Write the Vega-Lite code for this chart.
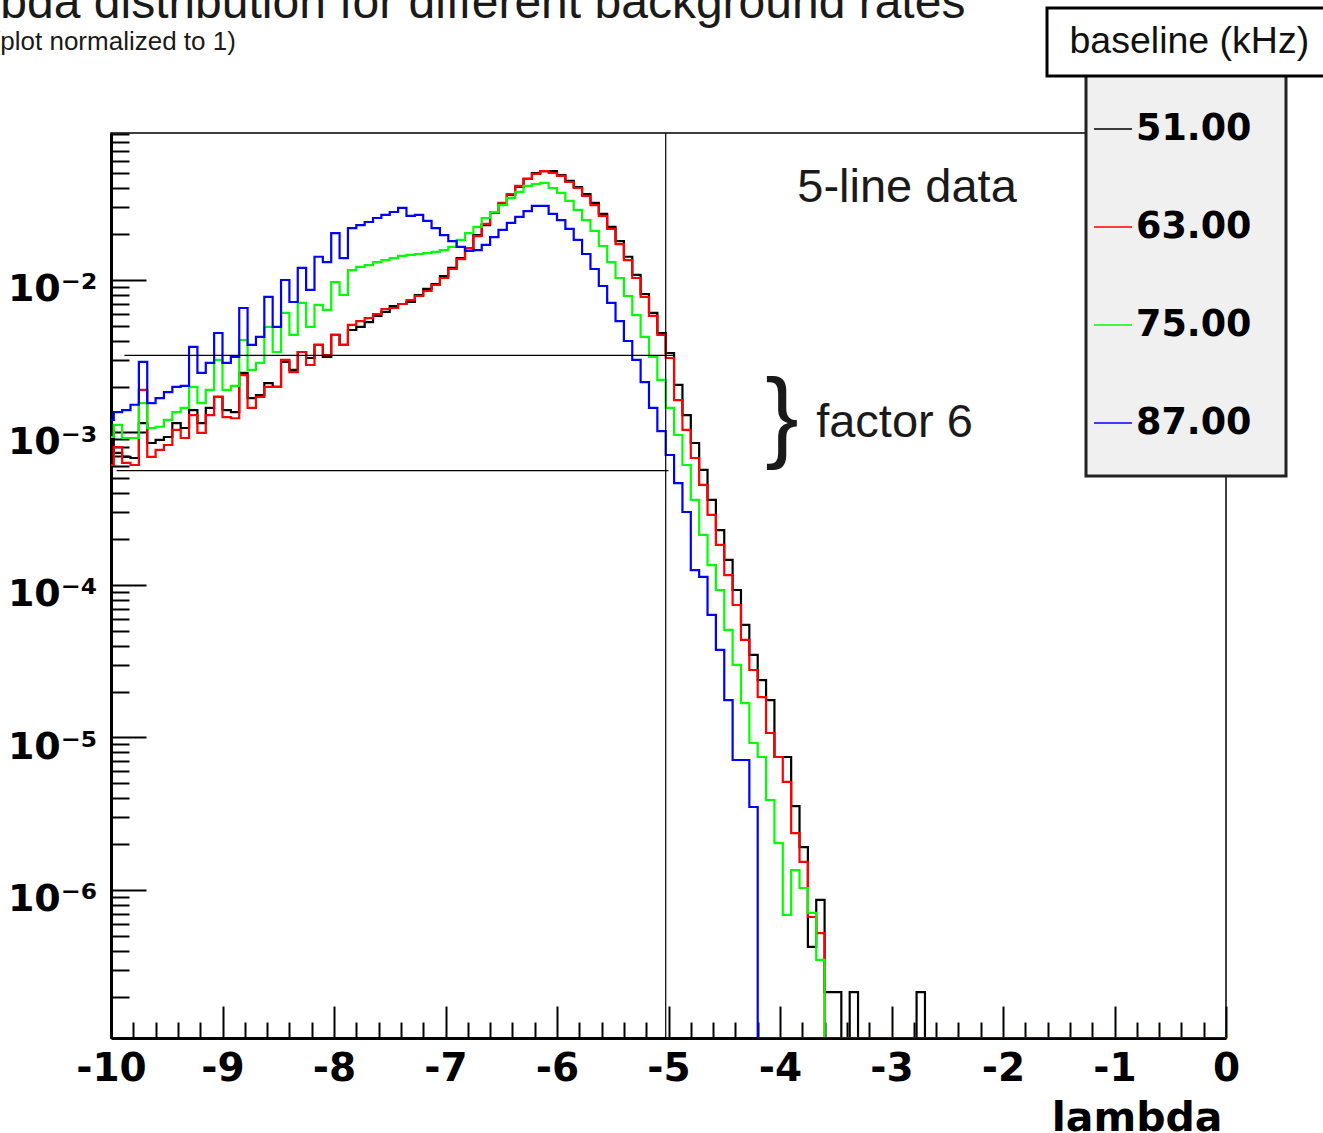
{
  "$schema": "https://vega.github.io/schema/vega-lite/v6.json",
  "width": 1115,
  "height": 905,
  "autosize": {"type": "none"},
  "padding": {"left": 111, "top": 133, "right": 97, "bottom": 95},
  "background": "white",
  "title": {
    "text": "lambda distribution for different background rates",
    "anchor": "start",
    "frame": "group",
    "font": "Liberation Sans",
    "fontSize": 48,
    "fontWeight": "normal",
    "color": "#1a1a1a",
    "baseline": "top",
    "offset": 0,
    "dx": -188,
    "dy": 21
  },
  "config": {
    "view": {"stroke": "black", "strokeWidth": 1.5},
    "font": "Liberation Sans",
    "legend": {"strokeWidth": 3}
  },
  "data": {
    "values": [
      {"lambda": -10.05, "51": 0.00102, "63": 0.000612, "75": 0.000934, "87": 0.00121},
      {"lambda": -9.975, "51": 0.000734, "63": 0.000803, "75": 0.00112, "87": 0.00136},
      {"lambda": -9.9, "51": 0.000691, "63": 0.000631, "75": 0.00092, "87": 0.0014},
      {"lambda": -9.825, "51": 0.00068, "63": 0.000612, "75": 0.00092, "87": 0.00152},
      {"lambda": -9.75, "51": 0.00115, "63": 0.0019, "75": 0.00156, "87": 0.0029},
      {"lambda": -9.675, "51": 0.000853, "63": 0.000691, "75": 0.00107, "87": 0.00156},
      {"lambda": -9.6, "51": 0.000893, "63": 0.000768, "75": 0.00109, "87": 0.00168},
      {"lambda": -9.525, "51": 0.000934, "63": 0.000828, "75": 0.00121, "87": 0.00184},
      {"lambda": -9.45, "51": 0.00115, "63": 0.00104, "75": 0.00136, "87": 0.00199},
      {"lambda": -9.375, "51": 0.00107, "63": 0.00092, "75": 0.00145, "87": 0.00202},
      {"lambda": -9.3, "51": 0.0014, "63": 0.0013, "75": 0.00199, "87": 0.00364},
      {"lambda": -9.225, "51": 0.00115, "63": 0.000993, "75": 0.00156, "87": 0.00246},
      {"lambda": -9.15, "51": 0.00145, "63": 0.0013, "75": 0.0019, "87": 0.00286},
      {"lambda": -9.075, "51": 0.00171, "63": 0.00171, "75": 0.00299, "87": 0.00449},
      {"lambda": -9.0, "51": 0.0014, "63": 0.00126, "75": 0.0019, "87": 0.00286},
      {"lambda": -8.925, "51": 0.00136, "63": 0.00124, "75": 0.00202, "87": 0.00313},
      {"lambda": -8.85, "51": 0.00246, "63": 0.00238, "75": 0.00404, "87": 0.00655},
      {"lambda": -8.775, "51": 0.00168, "63": 0.00145, "75": 0.00257, "87": 0.00375},
      {"lambda": -8.7, "51": 0.00176, "63": 0.00171, "75": 0.00286, "87": 0.00423},
      {"lambda": -8.625, "51": 0.00211, "63": 0.00199, "75": 0.00492, "87": 0.00774},
      {"lambda": -8.55, "51": 0.00199, "63": 0.00199, "75": 0.00337, "87": 0.00492},
      {"lambda": -8.475, "51": 0.0029, "63": 0.00299, "75": 0.00608, "87": 0.01},
      {"lambda": -8.4, "51": 0.00257, "63": 0.00249, "75": 0.00436, "87": 0.00717},
      {"lambda": -8.325, "51": 0.00337, "63": 0.00337, "75": 0.00707, "87": 0.012},
      {"lambda": -8.25, "51": 0.00308, "63": 0.00277, "75": 0.00492, "87": 0.0086},
      {"lambda": -8.175, "51": 0.00375, "63": 0.00375, "75": 0.00686, "87": 0.0142},
      {"lambda": -8.1, "51": 0.00313, "63": 0.00322, "75": 0.00636, "87": 0.0131},
      {"lambda": -8.025, "51": 0.00436, "63": 0.00436, "75": 0.0097, "87": 0.0203},
      {"lambda": -7.95, "51": 0.00375, "63": 0.00375, "75": 0.00797, "87": 0.0139},
      {"lambda": -7.875, "51": 0.0047, "63": 0.00507, "75": 0.0116, "87": 0.0219},
      {"lambda": -7.8, "51": 0.00492, "63": 0.00538, "75": 0.0122, "87": 0.0229},
      {"lambda": -7.725, "51": 0.0053, "63": 0.00563, "75": 0.0125, "87": 0.024},
      {"lambda": -7.65, "51": 0.00581, "63": 0.00598, "75": 0.0131, "87": 0.0255},
      {"lambda": -7.575, "51": 0.00617, "63": 0.00645, "75": 0.0135, "87": 0.0267},
      {"lambda": -7.5, "51": 0.00675, "63": 0.00655, "75": 0.0139, "87": 0.0279},
      {"lambda": -7.425, "51": 0.00696, "63": 0.00696, "75": 0.0144, "87": 0.0297},
      {"lambda": -7.35, "51": 0.00717, "63": 0.00739, "75": 0.0146, "87": 0.0263},
      {"lambda": -7.275, "51": 0.00797, "63": 0.00785, "75": 0.0148, "87": 0.0267},
      {"lambda": -7.2, "51": 0.00873, "63": 0.00847, "75": 0.015, "87": 0.0244},
      {"lambda": -7.125, "51": 0.00941, "63": 0.00927, "75": 0.0153, "87": 0.0219},
      {"lambda": -7.05, "51": 0.0106, "63": 0.0103, "75": 0.0157, "87": 0.0197},
      {"lambda": -6.975, "51": 0.012, "63": 0.0118, "75": 0.0165, "87": 0.018},
      {"lambda": -6.9, "51": 0.0139, "63": 0.0137, "75": 0.0183, "87": 0.0165},
      {"lambda": -6.825, "51": 0.0162, "63": 0.0162, "75": 0.0203, "87": 0.0155},
      {"lambda": -6.75, "51": 0.0197, "63": 0.0194, "75": 0.0223, "87": 0.0157},
      {"lambda": -6.675, "51": 0.0229, "63": 0.0233, "75": 0.0255, "87": 0.017},
      {"lambda": -6.6, "51": 0.0275, "63": 0.0275, "75": 0.0279, "87": 0.0191},
      {"lambda": -6.525, "51": 0.0315, "63": 0.032, "75": 0.031, "87": 0.0213},
      {"lambda": -6.45, "51": 0.0361, "63": 0.0366, "75": 0.0345, "87": 0.0237},
      {"lambda": -6.375, "51": 0.0407, "63": 0.0414, "75": 0.0378, "87": 0.0259},
      {"lambda": -6.3, "51": 0.046, "63": 0.046, "75": 0.0414, "87": 0.0283},
      {"lambda": -6.225, "51": 0.0503, "63": 0.0496, "75": 0.0426, "87": 0.0306},
      {"lambda": -6.15, "51": 0.0518, "63": 0.0518, "75": 0.0433, "87": 0.0306},
      {"lambda": -6.075, "51": 0.0518, "63": 0.0503, "75": 0.0401, "87": 0.0271},
      {"lambda": -6.0, "51": 0.0488, "63": 0.0481, "75": 0.0372, "87": 0.0247},
      {"lambda": -5.925, "51": 0.0446, "63": 0.0439, "75": 0.033, "87": 0.0216},
      {"lambda": -5.85, "51": 0.0407, "63": 0.0401, "75": 0.0288, "87": 0.0183},
      {"lambda": -5.775, "51": 0.0366, "63": 0.0356, "75": 0.0247, "87": 0.0148},
      {"lambda": -5.7, "51": 0.032, "63": 0.031, "75": 0.021, "87": 0.0118},
      {"lambda": -5.625, "51": 0.0271, "63": 0.0263, "75": 0.0167, "87": 0.00913},
      {"lambda": -5.55, "51": 0.0223, "63": 0.0216, "75": 0.0131, "87": 0.00707},
      {"lambda": -5.475, "51": 0.018, "63": 0.0172, "75": 0.0103, "87": 0.00538},
      {"lambda": -5.4, "51": 0.0142, "63": 0.0135, "75": 0.00785, "87": 0.00398},
      {"lambda": -5.325, "51": 0.0108, "63": 0.0103, "75": 0.00589, "87": 0.00299},
      {"lambda": -5.25, "51": 0.00809, "63": 0.00774, "75": 0.00423, "87": 0.00214},
      {"lambda": -5.175, "51": 0.00608, "63": 0.00581, "75": 0.00313, "87": 0.00145},
      {"lambda": -5.1, "51": 0.00449, "63": 0.00436, "75": 0.00221, "87": 0.00102},
      {"lambda": -5.025, "51": 0.00332, "63": 0.00308, "75": 0.00145, "87": 0.000712},
      {"lambda": -4.95, "51": 0.00205, "63": 0.00163, "75": 0.000963, "87": 0.000466},
      {"lambda": -4.875, "51": 0.0013, "63": 0.00104, "75": 0.000612, "87": 0.000301},
      {"lambda": -4.8, "51": 0.000853, "63": 0.00068, "75": 0.000361, "87": 0.000125},
      {"lambda": -4.725, "51": 0.000568, "63": 0.000453, "75": 0.000213, "87": 0.000113},
      {"lambda": -4.65, "51": 0.000361, "63": 0.000288, "75": 0.000135, "87": 0.0000636},
      {"lambda": -4.575, "51": 0.000229, "63": 0.000183, "75": 0.0000927, "87": 0.0000375},
      {"lambda": -4.5, "51": 0.000146, "63": 0.000116, "75": 0.0000507, "87": 0.0000176},
      {"lambda": -4.425, "51": 0.0000927, "63": 0.0000739, "75": 0.0000299, "87": 0.00000712},
      {"lambda": -4.35, "51": 0.0000547, "63": 0.0000436, "75": 0.0000168, "87": 0.00000712},
      {"lambda": -4.275, "51": 0.0000348, "63": 0.0000277, "75": 0.0000092, "87": 0.0000035},
      {"lambda": -4.2, "51": 0.0000238, "63": 0.0000184, "75": 0.00000745, "87": 0},
      {"lambda": -4.125, "51": 0.0000176, "63": 0.0000107, "75": 0.00000389, "87": 0},
      {"lambda": -4.05, "51": 0.00000745, "63": 0.00000745, "75": 0.00000203, "87": 0},
      {"lambda": -3.975, "51": 0.00000745, "63": 0.00000511, "75": 0.000000686, "87": 0},
      {"lambda": -3.9, "51": 0.00000355, "63": 0.00000236, "75": 0.00000135, "87": 0},
      {"lambda": -3.825, "51": 0.00000191, "63": 0.00000153, "75": 0.00000103, "87": 0},
      {"lambda": -3.75, "51": 0.000000423, "63": 0.000000665, "75": 0.000000707, "87": 0},
      {"lambda": -3.675, "51": 0.00000086, "63": 0.000000522, "75": 0.000000348, "87": 0},
      {"lambda": -3.6, "51": 0.000000214, "63": 0, "75": 0, "87": 0},
      {"lambda": -3.525, "51": 0.000000214, "63": 0, "75": 0, "87": 0},
      {"lambda": -3.45, "51": 0, "63": 0, "75": 0, "87": 0},
      {"lambda": -3.375, "51": 0.000000214, "63": 0, "75": 0, "87": 0},
      {"lambda": -3.3, "51": 0, "63": 0, "75": 0, "87": 0},
      {"lambda": -3.225, "51": 0, "63": 0, "75": 0, "87": 0},
      {"lambda": -3.15, "51": 0, "63": 0, "75": 0, "87": 0},
      {"lambda": -3.075, "51": 0, "63": 0, "75": 0, "87": 0},
      {"lambda": -3.0, "51": 0, "63": 0, "75": 0, "87": 0},
      {"lambda": -2.925, "51": 0, "63": 0, "75": 0, "87": 0},
      {"lambda": -2.85, "51": 0, "63": 0, "75": 0, "87": 0},
      {"lambda": -2.775, "51": 0.000000214, "63": 0, "75": 0, "87": 0},
      {"lambda": -2.7, "51": 0, "63": 0, "75": 0, "87": 0},
      {"lambda": -2.625, "51": 0, "63": 0, "75": 0, "87": 0},
      {"lambda": -2.55, "51": 0, "63": 0, "75": 0, "87": 0},
      {"lambda": -2.475, "51": 0, "63": 0, "75": 0, "87": 0},
      {"lambda": -2.4, "51": 0, "63": 0, "75": 0, "87": 0},
      {"lambda": -2.325, "51": 0, "63": 0, "75": 0, "87": 0},
      {"lambda": -2.25, "51": 0, "63": 0, "75": 0, "87": 0},
      {"lambda": -2.175, "51": 0, "63": 0, "75": 0, "87": 0},
      {"lambda": -2.1, "51": 0, "63": 0, "75": 0, "87": 0},
      {"lambda": -2.025, "51": 0, "63": 0, "75": 0, "87": 0},
      {"lambda": -1.95, "51": 0, "63": 0, "75": 0, "87": 0},
      {"lambda": -1.875, "51": 0, "63": 0, "75": 0, "87": 0},
      {"lambda": -1.8, "51": 0, "63": 0, "75": 0, "87": 0},
      {"lambda": -1.725, "51": 0, "63": 0, "75": 0, "87": 0},
      {"lambda": -1.65, "51": 0, "63": 0, "75": 0, "87": 0},
      {"lambda": -1.575, "51": 0, "63": 0, "75": 0, "87": 0},
      {"lambda": -1.5, "51": 0, "63": 0, "75": 0, "87": 0},
      {"lambda": -1.425, "51": 0, "63": 0, "75": 0, "87": 0},
      {"lambda": -1.35, "51": 0, "63": 0, "75": 0, "87": 0},
      {"lambda": -1.275, "51": 0, "63": 0, "75": 0, "87": 0},
      {"lambda": -1.2, "51": 0, "63": 0, "75": 0, "87": 0},
      {"lambda": -1.125, "51": 0, "63": 0, "75": 0, "87": 0},
      {"lambda": -1.05, "51": 0, "63": 0, "75": 0, "87": 0},
      {"lambda": -0.975, "51": 0, "63": 0, "75": 0, "87": 0},
      {"lambda": -0.9, "51": 0, "63": 0, "75": 0, "87": 0},
      {"lambda": -0.825, "51": 0, "63": 0, "75": 0, "87": 0},
      {"lambda": -0.75, "51": 0, "63": 0, "75": 0, "87": 0},
      {"lambda": -0.675, "51": 0, "63": 0, "75": 0, "87": 0},
      {"lambda": -0.6, "51": 0, "63": 0, "75": 0, "87": 0},
      {"lambda": -0.525, "51": 0, "63": 0, "75": 0, "87": 0},
      {"lambda": -0.45, "51": 0, "63": 0, "75": 0, "87": 0},
      {"lambda": -0.375, "51": 0, "63": 0, "75": 0, "87": 0},
      {"lambda": -0.3, "51": 0, "63": 0, "75": 0, "87": 0},
      {"lambda": -0.225, "51": 0, "63": 0, "75": 0, "87": 0},
      {"lambda": -0.15, "51": 0, "63": 0, "75": 0, "87": 0},
      {"lambda": -0.075, "51": 0, "63": 0, "75": 0, "87": 0},
      {"lambda": 0.0, "51": 0, "63": 0, "75": 0, "87": 0}
    ]
  },
  "layer": [
    {
      "transform": [{"fold": ["51", "63", "75", "87"], "as": ["rate", "value"]}],
      "mark": {"type": "line", "interpolate": "step-after", "strokeWidth": 2.2, "clip": true},
      "encoding": {
        "x": {
          "field": "lambda",
          "type": "quantitative",
          "scale": {"domain": [-10, 0], "nice": false, "zero": false},
          "axis": {
            "values": [-10, -9.8, -9.6, -9.4, -9.2, -9, -8.8, -8.6, -8.4, -8.2, -8, -7.8, -7.6, -7.4, -7.2, -7, -6.8, -6.6, -6.4, -6.2, -6, -5.8, -5.6, -5.4, -5.2, -5, -4.8, -4.6, -4.4, -4.2, -4, -3.8, -3.6, -3.4, -3.2, -3, -2.8, -2.6, -2.4, -2.2, -2, -1.8, -1.6, -1.4, -1.2, -1, -0.8, -0.6, -0.4, -0.2, 0],
            "tickCount": 100,
            "labelExpr": "abs(datum.value - round(datum.value)) < 0.001 ? '' + round(datum.value) : ''",
            "tickSize": {"condition": {"test": "abs(datum.value - round(datum.value)) < 0.001", "value": -32}, "value": -16},
            "tickWidth": 2,
            "tickColor": "black",
            "domainWidth": 3,
            "domainColor": "black",
            "grid": false,
            "labelFont": "DejaVu Sans",
            "labelFontWeight": "bold",
            "labelFontSize": 39,
            "labelColor": "black",
            "labelBaseline": "top",
            "labelPadding": 43,
            "labelOverlap": false,
            "labelFlush": false,
            "labelBound": false,
            "title": "lambda",
            "titleFont": "DejaVu Sans",
            "titleFontWeight": "bold",
            "titleFontSize": 41,
            "titleColor": "black",
            "titleAnchor": "end",
            "titleAlign": "right",
            "titleBaseline": "alphabetic",
            "titleX": 1111,
            "titleY": 92
          }
        },
        "y": {
          "field": "value",
          "type": "quantitative",
          "scale": {"type": "log", "domain": [1.07e-7, 0.092], "nice": false, "clamp": true},
          "axis": {
            "values": [2e-7, 3e-7, 4e-7, 5e-7, 6e-7, 7e-7, 8e-7, 9e-7, 1e-6, 2e-6, 3e-6, 4e-6, 5e-6, 6e-6, 7e-6, 8e-6, 9e-6, 1e-5, 2e-5, 3e-5, 4e-5, 5e-5, 6e-5, 7e-5, 8e-5, 9e-5, 1e-4, 2e-4, 3e-4, 4e-4, 5e-4, 6e-4, 7e-4, 8e-4, 9e-4, 1e-3, 2e-3, 3e-3, 4e-3, 5e-3, 6e-3, 7e-3, 8e-3, 9e-3, 1e-2, 2e-2, 3e-2, 4e-2, 5e-2, 6e-2, 7e-2, 8e-2, 9e-2],
            "tickCount": 100,
            "labelExpr": "abs(log(datum.value)/LN10 - round(log(datum.value)/LN10)) < 0.01 ? (round(log(datum.value)/LN10) == -2 ? '10\u207b\u00b2' : round(log(datum.value)/LN10) == -3 ? '10\u207b\u00b3' : round(log(datum.value)/LN10) == -4 ? '10\u207b\u2074' : round(log(datum.value)/LN10) == -5 ? '10\u207b\u2075' : '10\u207b\u2076') : ''",
            "tickSize": {"condition": {"test": "abs(log(datum.value)/LN10 - round(log(datum.value)/LN10)) < 0.01", "value": -35}, "value": -18},
            "tickWidth": 2,
            "tickColor": "black",
            "domainWidth": 3,
            "domainColor": "black",
            "grid": false,
            "labelFont": "DejaVu Sans",
            "labelFontWeight": "bold",
            "labelFontSize": 38,
            "labelColor": "black",
            "labelAlign": "right",
            "labelBaseline": "middle",
            "labelPadding": 49,
            "labelOffset": 10,
            "labelOverlap": false,
            "labelFlush": false,
            "labelBound": false,
            "title": null
          }
        },
        "color": {
          "field": "rate",
          "type": "nominal",
          "scale": {"domain": ["51", "63", "75", "87"], "range": ["#000000", "#ff0000", "#00ff00", "#0000ff"]},
          "legend": {
            "title": null,
            "orient": "none",
            "legendX": 975,
            "legendY": -58,
            "fillColor": "#f0f0f0",
            "strokeColor": "#222222",
            "padding": 34,
            "symbolType": "stroke",
            "symbolSize": 1444,
            "symbolStrokeWidth": 1.5,
            "symbolOffset": -27,
            "labelOffset": 3,
            "labelFont": "DejaVu Sans",
            "labelFontWeight": "bold",
            "labelFontSize": 36.5,
            "labelColor": "black",
            "labelLimit": 300,
            "rowPadding": 59,
            "labelExpr": "datum.label + '.00'"
          }
        },
        "strokeDash": {
          "datum": "baseline (kHz)",
          "scale": {"range": [[1, 0]]},
          "legend": {
            "title": null,
            "orient": "none",
            "legendX": 936,
            "legendY": -125,
            "fillColor": "white",
            "strokeColor": "black",
            "padding": 15,
            "symbolType": "stroke",
            "symbolSize": 1,
            "symbolOpacity": 0,
            "labelOffset": -30,
            "labelFont": "Liberation Sans",
            "labelFontSize": 37.5,
            "labelColor": "#111111",
            "labelLimit": 400
          }
        }
      }
    },
    {
      "data": {"values": [{}]},
      "mark": {"type": "rule", "color": "black", "strokeWidth": 1.2},
      "encoding": {"x": {"datum": -5.025}, "y": {"datum": 1.07e-7}, "y2": {"datum": 0.092}}
    },
    {
      "data": {"values": [{}]},
      "mark": {"type": "rule", "color": "black", "strokeWidth": 1.2},
      "encoding": {"x": {"datum": -9.88}, "x2": {"datum": -4.95}, "y": {"datum": 0.003208}}
    },
    {
      "data": {"values": [{}]},
      "mark": {"type": "rule", "color": "black", "strokeWidth": 1.2},
      "encoding": {"x": {"datum": -9.95}, "x2": {"datum": -5.0}, "y": {"datum": 0.0005617}}
    },
    {
      "data": {"values": [{}]},
      "mark": {"type": "text", "text": "(plot normalized to 1)", "align": "left", "baseline": "alphabetic", "font": "Liberation Sans", "fontSize": 26, "color": "#1a1a1a", "dy": -83, "clip": false},
      "encoding": {"x": {"datum": -11.0706}, "y": {"datum": 0.092}}
    },
    {
      "data": {"values": [{}]},
      "mark": {"type": "text", "text": "5-line data", "align": "left", "baseline": "alphabetic", "font": "Liberation Sans", "fontSize": 47, "color": "#1a1a1a"},
      "encoding": {"x": {"datum": -3.845}, "y": {"datum": 0.03246}}
    },
    {
      "data": {"values": [{}]},
      "mark": {"type": "text", "text": "factor 6", "align": "left", "baseline": "alphabetic", "font": "Liberation Sans", "fontSize": 47, "color": "#1a1a1a"},
      "encoding": {"x": {"datum": -3.676}, "y": {"datum": 0.000934}}
    },
    {
      "data": {"values": [{}]},
      "mark": {"type": "text", "text": "}", "align": "left", "baseline": "alphabetic", "font": "Liberation Sans", "fontSize": 100, "color": "#1a1a1a"},
      "encoding": {"x": {"datum": -4.133}, "y": {"datum": 0.00078}}
    }
  ]
}
